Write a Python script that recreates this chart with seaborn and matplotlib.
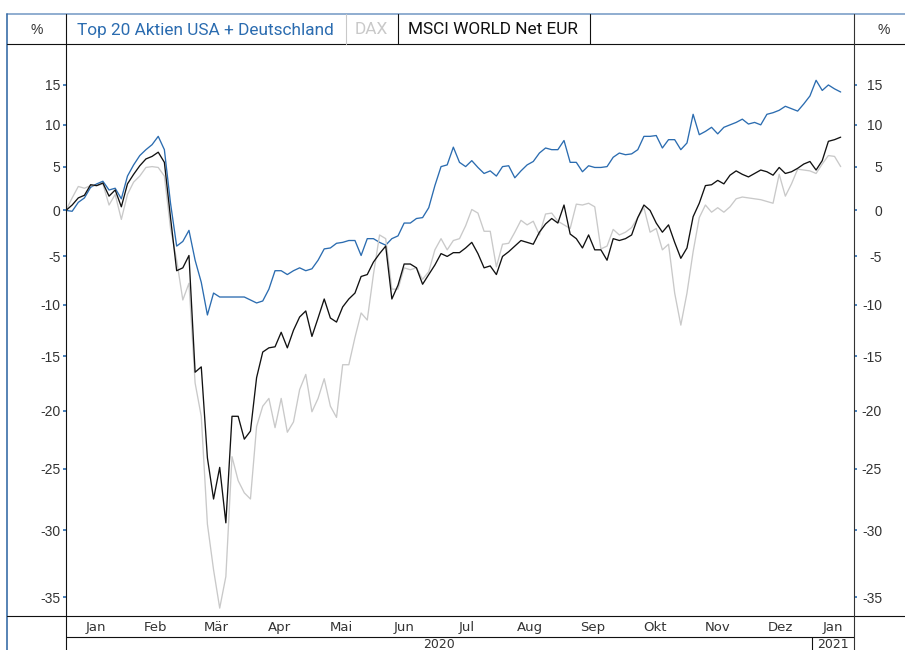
import numpy as np
import pandas as pd
import matplotlib
matplotlib.use("Agg")
import matplotlib.pyplot as plt
import matplotlib.dates as mdates
from matplotlib.lines import Line2D
from matplotlib.transforms import ScaledTranslation
import seaborn as sns

# one reading every 3 days (cumulative % change)
dates = pd.date_range("2020-01-03", periods=127, freq="3D")

top20 = [0.0, -0.1, 0.9, 1.4, 2.6, 3.0, 3.3, 2.3, 2.5, 1.3,
         3.9, 5.2, 6.3, 7.0, 7.6, 8.6, 7.0, 0.8, -3.9, -3.4,
         -2.2, -5.4, -7.7, -11.0, -8.8, -9.2, -9.2, -9.2, -9.2, -9.2,
         -9.5, -9.8, -9.6, -8.4, -6.5, -6.5, -6.9, -6.5, -6.2, -6.5,
         -6.3, -5.4, -4.2, -4.1, -3.6, -3.5, -3.3, -3.3, -4.9, -3.1,
         -3.1, -3.5, -3.8, -3.1, -2.8, -1.4, -1.4, -0.9, -0.8, 0.3,
         2.8, 5.0, 5.2, 7.3, 5.5, 5.0, 5.7, 4.9, 4.2, 4.5,
         3.9, 5.0, 5.1, 3.7, 4.5, 5.2, 5.6, 6.6, 7.2, 7.0,
         7.0, 8.1, 5.5, 5.5, 4.4, 5.1, 4.9, 4.9, 5.0, 6.1,
         6.6, 6.4, 6.5, 7.0, 8.6, 8.6, 8.7, 7.2, 8.2, 8.2,
         7.0, 7.8, 11.3, 8.8, 9.2, 9.7, 8.9, 9.7, 10.0, 10.3,
         10.7, 10.1, 10.3, 10.0, 11.3, 11.5, 11.8, 12.3, 12.0, 11.7,
         12.6, 13.6, 15.6, 14.3, 15.0, 14.5, 14.1]

dax = [0.0, 1.4, 2.7, 2.5, 2.8, 2.8, 3.0, 0.6, 1.8, -1.0,
       1.8, 3.2, 3.9, 4.9, 5.0, 4.9, 3.9, -2.0, -5.4, -9.5,
       -7.8, -17.5, -20.5, -29.5, -33.0, -35.8, -33.5, -24.0, -26.0, -27.0,
       -27.5, -21.4, -19.6, -18.9, -21.5, -18.9, -21.9, -21.0, -18.1, -16.7,
       -20.1, -18.9, -17.1, -19.6, -20.6, -15.8, -15.8, -13.2, -10.8, -11.5,
       -6.9, -2.7, -3.1, -8.4, -8.4, -6.2, -6.4, -6.2, -7.4, -6.6,
       -4.3, -3.1, -4.3, -3.3, -3.1, -1.7, 0.1, -0.3, -2.3, -2.3,
       -6.1, -3.7, -3.6, -2.4, -1.1, -1.6, -1.2, -2.7, -0.4, -0.3,
       -1.2, -1.6, -2.0, 0.7, 0.6, 0.8, 0.4, -4.2, -3.9, -2.1,
       -2.7, -2.4, -1.9, -0.8, 0.3, -2.4, -2.0, -4.3, -3.7, -8.8,
       -12.0, -8.8, -4.5, -0.8, 0.6, -0.2, 0.3, -0.2, 0.4, 1.3,
       1.5, 1.4, 1.3, 1.2, 1.0, 0.8, 4.1, 1.6, 3.0, 4.7,
       4.6, 4.5, 4.2, 5.3, 6.3, 6.2, 5.0]

msci = [0.0, 0.6, 1.4, 1.7, 2.9, 2.8, 3.1, 1.6, 2.3, 0.4,
        3.0, 4.1, 5.1, 5.9, 6.2, 6.7, 5.5, -0.8, -6.5, -6.2,
        -4.9, -16.5, -16.0, -24.1, -27.5, -24.9, -29.4, -20.5, -20.5, -22.5,
        -21.8, -17.0, -14.6, -14.2, -14.1, -12.7, -14.2, -12.5, -11.2, -10.6,
        -13.1, -11.3, -9.4, -11.3, -11.7, -10.2, -9.4, -8.8, -7.1, -6.9,
        -5.6, -4.7, -3.9, -9.4, -8.0, -5.8, -5.8, -6.2, -7.9, -6.9,
        -5.9, -4.7, -5.0, -4.6, -4.6, -4.1, -3.5, -4.7, -6.2, -6.0,
        -6.9, -5.0, -4.5, -3.9, -3.3, -3.5, -3.7, -2.4, -1.5, -0.9,
        -1.4, 0.6, -2.6, -3.1, -4.1, -2.7, -4.3, -4.3, -5.4, -3.1,
        -3.3, -3.1, -2.7, -0.8, 0.6, 0.0, -1.4, -2.4, -1.6, -3.5,
        -5.2, -4.1, -0.7, 0.8, 2.8, 2.9, 3.4, 3.0, 4.0, 4.5,
        4.1, 3.8, 4.2, 4.6, 4.4, 4.0, 4.9, 4.2, 4.4, 4.8,
        5.3, 5.6, 4.6, 5.7, 8.0, 8.2, 8.5]

series_names = ["Top 20 Aktien USA + Deutschland", "DAX", "MSCI WORLD Net EUR"]
series_colors = ["#2b6cb0", "#c9c9c9", "#111111"]
month_names = ["Jan", "Feb", "Mär", "Apr", "Mai", "Jun", "Jul",
               "Aug", "Sep", "Okt", "Nov", "Dez", "Jan"]
y_ticks = [15, 10, 5, 0, -5, -10, -15, -20, -25, -30, -35]

W, H = 905, 650


def px(x, y):
    return x / W, 1 - y / H


def fig_line(fig, x0, y0, x1, y1, color="#111111", lw=0.8):
    (a, b), (c, d) = px(x0, y0), px(x1, y1)
    fig.add_artist(Line2D([a, c], [b, d], color=color, linewidth=lw,
                          transform=fig.transFigure))


def fwd(y):
    return np.log1p(np.asarray(y) / 100.0)


def inv(z):
    return 100.0 * np.expm1(np.asarray(z))


def main():
    sns.set_style("white")
    plt.rcParams["font.family"] = ["Liberation Sans", "DejaVu Sans"]

    df = pd.DataFrame({
        "date": np.tile(dates, 3),
        "value": top20 + dax + msci,
        "series": np.repeat(series_names, len(dates)),
    })

    fig = plt.figure(figsize=(W / 100, H / 100), dpi=100)
    x0, y_top = px(66, 44)
    x1, y_bot = px(854, 615)
    ax = fig.add_axes([x0, y_bot, x1 - x0, y_top - y_bot])

    sns.lineplot(data=df, x="date", y="value", hue="series",
                 hue_order=series_names,
                 palette=dict(zip(series_names, series_colors)),
                 linewidth=0.95, legend=False, estimator=None, ax=ax)

    # log-return style axis: equal ratios, equal distance
    ax.set_yscale("function", functions=(fwd, inv))
    ax.set_ylim(-36.29, 20.37)
    xmin, xmax = dates[0], pd.Timestamp("2021-01-21 12:00")
    ax.set_xlim(xmin, xmax)
    for s in ax.spines.values():
        s.set_visible(False)
    ax.set_xlabel("")
    ax.set_ylabel("")

    # y ticks on both sides
    ax.set_yticks(y_ticks)
    ax.set_yticklabels([str(t) for t in y_ticks])
    ax.tick_params(axis="y", which="major", direction="out", length=2.5, width=1.2,
                   color="#2b6cb0", labelcolor="#333333", labelsize=10,
                   left=True, right=True, labelleft=True, labelright=True, pad=1.5)
    shift = ScaledTranslation(0.225, 0, fig.dpi_scale_trans)
    for t in ax.yaxis.get_major_ticks():
        t.label2.set_horizontalalignment("right")
        t.label2.set_transform(t.label2.get_transform() + shift)

    # month labels centred in their month, ticks on month borders
    ms = pd.date_range("2020-01-01", "2021-02-01", freq="MS")
    centers, borders = [], []
    for k in range(len(ms) - 1):
        lo, hi = max(ms[k], xmin), min(ms[k + 1], xmax)
        centers.append(lo + (hi - lo) / 2)
        if xmin < ms[k] < xmax:
            borders.append(ms[k])
    ax.set_xticks(mdates.date2num(centers))
    ax.set_xticklabels(month_names)
    ax.set_xticks(mdates.date2num(borders), minor=True)
    ax.tick_params(axis="x", which="major", length=0, pad=4.5,
                   labelsize=9.5, labelcolor="#333333")
    ax.tick_params(axis="x", which="minor", length=4, width=0.9,
                   color="#111111", direction="out")
    narrow = ["Liberation Sans Narrow", "DejaVu Sans"]
    for lbl in ax.get_xticklabels():
        lbl.set_family(narrow)

    # year row
    ytr = ax.get_xaxis_transform()
    row = (615 - 637) / (615 - 44)
    ax.plot([0, 1], [row, row], transform=ax.transAxes, color="#111111",
            linewidth=0.8, clip_on=False)
    yb = mdates.date2num(pd.Timestamp("2021-01-01"))
    ax.plot([yb, yb], [row, -1], transform=ytr, color="#111111",
            linewidth=0.8, clip_on=False)
    ax.set_xlim(xmin, xmax)
    ax.set_ylim(-36.29, 20.37)
    ytext = (615 - 644) / (615 - 44)
    ax.text(mdates.date2num(xmin) / 2 + yb / 2, ytext, "2020", transform=ytr,
            ha="center", va="center", fontsize=9, color="#333333", family=narrow)
    ax.text(yb / 2 + mdates.date2num(xmax) / 2, ytext, "2021", transform=ytr,
            ha="center", va="center", fontsize=9, color="#333333", family=narrow)

    # frame lines
    fig_line(fig, 7, 14, 905, 14, color="#7d9fc8", lw=1.2)
    fig_line(fig, 7, 14, 7, 650, color="#3a6ea8", lw=1.2)
    fig_line(fig, 7, 44, 905, 44)
    fig_line(fig, 7, 615.5, 905, 615.5)
    fig_line(fig, 66, 14, 66, 650)
    fig_line(fig, 854, 14, 854, 650, color="#333333")
    fig_line(fig, 346, 14, 346, 44, color=series_colors[1])
    fig_line(fig, 398, 14, 398, 44)
    fig_line(fig, 590, 14, 590, 44)

    # header legend
    hy = px(0, 30)[1]
    fig.text(px(37, 0)[0], hy, "%", ha="center", va="center",
             fontsize=10, color="#333333")
    fig.text(px(884, 0)[0], hy, "%", ha="center", va="center",
             fontsize=10, color="#333333")
    for xs, name, col in zip([77, 355, 408], series_names, series_colors):
        fig.text(px(xs, 0)[0], hy, name, ha="left", va="center",
                 fontsize=12.4, color=col, family=["Roboto", "DejaVu Sans"])

    fig.savefig("out.png", dpi=100)


if __name__ == "__main__":
    main()
